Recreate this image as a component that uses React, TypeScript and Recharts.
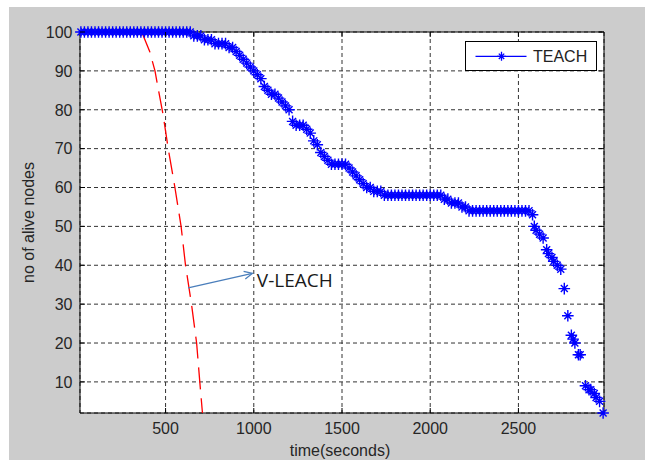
import { CartesianGrid, ComposedChart, Label, Legend, Line, ReferenceArea, ReferenceLine, XAxis, YAxis } from "recharts";

// TEACH: alive nodes over time (step ~20 s)
const teachTime = [
  20, 40, 60, 80, 100, 120, 140, 160, 180, 200, 220, 240, 260, 280, 300, 320, 340, 360, 380, 400,
  420, 440, 460, 480, 500, 520, 540, 560, 580, 600, 620, 640, 660, 680, 700, 720, 740, 760, 780, 800,
  820, 840, 860, 880, 900, 920, 940, 960, 980, 1000, 1020, 1040, 1060, 1080, 1100, 1120, 1140, 1160, 1180, 1200,
  1220, 1240, 1260, 1280, 1300, 1320, 1340, 1360, 1380, 1400, 1420, 1440, 1460, 1480, 1500, 1520, 1540, 1560, 1580, 1600,
  1620, 1640, 1660, 1680, 1700, 1720, 1740, 1760, 1780, 1800, 1820, 1840, 1860, 1880, 1900, 1920, 1940, 1960, 1980, 2000,
  2020, 2040, 2060, 2080, 2100, 2120, 2140, 2160, 2180, 2200, 2220, 2240, 2260, 2280, 2300, 2320, 2340, 2360, 2380, 2400,
  2420, 2440, 2460, 2480, 2500, 2520, 2540, 2560, 2580, 2590, 2600, 2620, 2640, 2660, 2670, 2690, 2700, 2720, 2740, 2760,
  2780, 2800, 2810, 2820, 2840, 2850, 2880, 2900, 2910, 2930, 2940, 2960, 2980,
];
const teachAlive = [
  100, 100, 100, 100, 100, 100, 100, 100, 100, 100, 100, 100, 100, 100, 100, 100, 100, 100, 100, 100,
  100, 100, 100, 100, 100, 100, 100, 100, 100, 100, 100, 100, 99, 99, 99, 98, 98, 98, 97, 97,
  97, 97, 96, 96, 95, 94, 93, 92, 91, 90, 89, 88, 86, 85, 84, 84, 83, 82, 81, 80,
  77, 76, 76, 76, 75, 74, 72, 71, 69, 68, 67, 66, 66, 66, 66, 66, 65, 64, 63, 62,
  61, 60, 60, 59, 59, 59, 58, 58, 58, 58, 58, 58, 58, 58, 58, 58, 58, 58, 58, 58,
  58, 58, 58, 57, 57, 56, 56, 56, 55, 55, 54, 54, 54, 54, 54, 54, 54, 54, 54, 54,
  54, 54, 54, 54, 54, 54, 54, 54, 53, 50, 49, 48, 47, 44, 43, 42, 41, 40, 39, 34,
  27, 22, 21, 20, 17, 17, 9, 8, 8, 7, 6, 5, 2,
];

// V-LEACH: red dashed curve
const vleachTime = [365, 410, 440, 460, 485, 515, 553, 588, 613, 647, 676, 694, 709];
const vleachAlive = [100, 95, 90, 85, 79, 70, 60, 50, 40, 30, 20, 10, 2];

const xTicks = [500, 1000, 1500, 2000, 2500];
const yTicks = [10, 20, 30, 40, 50, 60, 70, 80, 90, 100];

// annotation arrow pointing to "V-LEACH" text
const arrowTime = [628, 992];
const arrowAlive = [34.2, 37.9];

const teachData = teachTime.map((t, i) => ({ t, alive: teachAlive[i] }));
const vleachData = vleachTime.map((t, i) => ({ t, alive: vleachAlive[i] }));

const BLUE = "#0000ff";
const PLOT_H = 381;
const PLOT_W = 524;
const tickFont = { fontFamily: "'Liberation Sans', Arial, sans-serif", fontSize: 16, fill: "#262626" };

function Star({ cx, cy, r = 5.8, w = 1.4 }: { cx?: number; cy?: number; r?: number; w?: number }) {
  if (cx == null || cy == null) return null;
  const d = r * 0.6;
  return (
    <path
      d={`M${cx - r},${cy}H${cx + r}M${cx},${cy - r}V${cy + r}M${cx - d},${cy - d}L${cx + d},${cy + d}M${cx - d},${cy + d}L${cx + d},${cy - d}`}
      stroke={BLUE}
      strokeWidth={w}
      fill="none"
    />
  );
}

function XTick({ x, y, payload }: any) {
  return (
    <g>
      <line x1={x} y1={y} x2={x} y2={y - 5} stroke="#000" />
      <line x1={x} y1={y - PLOT_H} x2={x} y2={y - PLOT_H + 5} stroke="#000" />
      <text x={x} y={y + 21} textAnchor="middle" {...tickFont}>{payload.value}</text>
    </g>
  );
}

function YTick({ x, y, payload }: any) {
  return (
    <g>
      <line x1={x} y1={y} x2={x + 5} y2={y} stroke="#000" />
      <line x1={x + PLOT_W} y1={y} x2={x + PLOT_W - 5} y2={y} stroke="#000" />
      <text x={x - 7.5} y={y} dy="0.36em" textAnchor="end" {...tickFont}>{payload.value}</text>
    </g>
  );
}

function ArrowShape({ x1, y1, x2, y2 }: any) {
  const a = Math.atan2(y2 - y1, x2 - x1);
  const L = 9;
  const s = 0.45;
  const p1 = [x2 - L * Math.cos(a - s), y2 - L * Math.sin(a - s)];
  const p2 = [x2 - L * Math.cos(a + s), y2 - L * Math.sin(a + s)];
  return (
    <g>
      <line x1={x1} y1={y1} x2={x2} y2={y2} stroke="#4a7ebb" strokeWidth={1.3} />
      <path d={`M${p1[0]},${p1[1]}L${x2},${y2}L${p2[0]},${p2[1]}`} stroke="#4a7ebb" strokeWidth={1.3} fill="none" />
      <text x={x2 + 4.5} y={y2 + 13.5} fontFamily="'Open Sans', sans-serif" fontSize={19} fill="#1a1a1a">
        V-LEACH
      </text>
    </g>
  );
}

function LegendBox() {
  return (
    <svg width={133} height={31} style={{ display: "block" }}>
      <rect x={0.5} y={0.5} width={131} height={29} fill="#fff" stroke="#000" />
      <line x1={10.5} y1={15.3} x2={61.5} y2={15.3} stroke={BLUE} strokeWidth={1.2} />
      <Star cx={36.5} cy={15.3} r={4.5} w={1.3} />
      <text x={68} y={15.3} dy="0.36em" {...tickFont} fill="#222">TEACH</text>
    </svg>
  );
}

export default function App() {
  return (
    <div style={{ position: "absolute", left: 0, top: 0, width: 649, height: 460, background: "#fff", overflow: "hidden" }}>
      <div style={{ position: "absolute", left: 9, top: 7, width: 636, height: 453, background: "#cccccc" }} />
      <div style={{ position: "absolute", left: 0, top: 0 }}>
        <ComposedChart width={649} height={460} margin={{ top: 32, right: 45, bottom: 17, left: 20 }}>
          <CartesianGrid stroke="#333" strokeDasharray="4 3" fill="#fff" />
          <XAxis
            type="number"
            dataKey="t"
            domain={[15, 2985]}
            ticks={xTicks}
            height={30}
            axisLine={false}
            tickLine={false}
            tickSize={0}
            tickMargin={0}
            tick={<XTick />}
          >
            <Label
              content={({ viewBox }: any) => (
                <text x={340} y={viewBox.y + 43} textAnchor="middle" {...tickFont}>
                  time(seconds)
                </text>
              )}
            />
          </XAxis>
          <YAxis
            type="number"
            domain={[2, 100]}
            ticks={yTicks}
            width={60}
            axisLine={false}
            tickLine={false}
            tickSize={0}
            tickMargin={0}
            tick={<YTick />}
          >
            <Label
              content={({ viewBox }: any) => {
                const cx = viewBox.x + 8;
                const cy = viewBox.y + viewBox.height / 2;
                return (
                  <text x={cx} y={cy} dy="0.36em" textAnchor="middle" transform={`rotate(-90 ${cx} ${cy})`} {...tickFont}>
                    no of alive nodes
                  </text>
                );
              }}
            />
          </YAxis>
          <ReferenceArea x1={15} x2={2985} y1={2} y2={100} fill="none" stroke="#000" strokeWidth={1} ifOverflow="visible" />
          <Line
            data={teachData}
            dataKey="alive"
            name="TEACH"
            stroke="none"
            isAnimationActive={false}
            activeDot={false}
            dot={(p: any) => <Star key={`s-${p.index}`} cx={p.cx} cy={p.cy} />}
          />
          <Line
            data={vleachData}
            dataKey="alive"
            name="V-LEACH"
            type="linear"
            stroke="#ff0000"
            strokeWidth={1.3}
            strokeDasharray="22 9"
            dot={false}
            activeDot={false}
            isAnimationActive={false}
          />
          <ReferenceLine
            segment={[
              { x: arrowTime[0], y: arrowAlive[0] },
              { x: arrowTime[1], y: arrowAlive[1] },
            ]}
            ifOverflow="visible"
            shape={ArrowShape}
          />
          <Legend
            layout="horizontal"
            verticalAlign="middle"
            align="center"
            content={() => <LegendBox />}
            wrapperStyle={{ left: 465, top: 41, width: 133, height: 31 }}
          />
        </ComposedChart>
      </div>
    </div>
  );
}
